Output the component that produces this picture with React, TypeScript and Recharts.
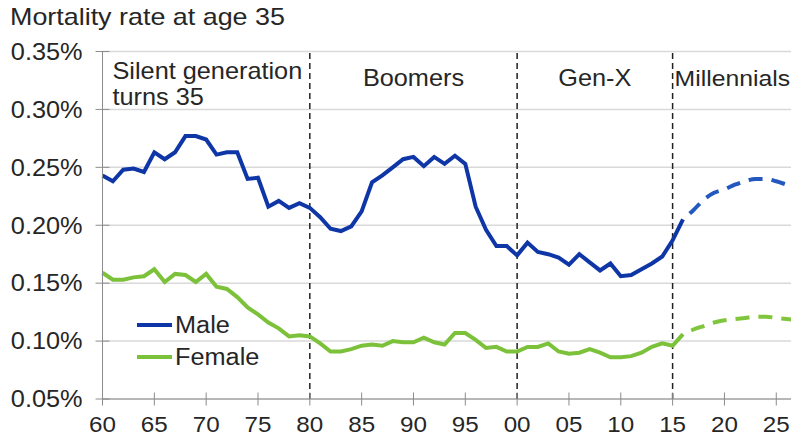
import {
  CartesianGrid,
  Line,
  LineChart,
  ReferenceArea,
  ReferenceLine,
  XAxis,
  YAxis,
} from 'recharts';

const FIRST_YEAR = 1960;
const PROJECTION_START = 2016;

// Mortality rate at age 35, % — history 1960..2016
const maleHistory = [
  0.243, 0.238, 0.248, 0.249, 0.246, 0.263, 0.257, 0.263, 0.277, 0.277,
  0.274, 0.261, 0.263, 0.263, 0.24, 0.241, 0.216, 0.221, 0.215, 0.219,
  0.215, 0.207, 0.197, 0.195, 0.199, 0.212, 0.237, 0.243, 0.25, 0.257,
  0.259, 0.251, 0.259, 0.253, 0.26, 0.253, 0.216, 0.196, 0.182, 0.182,
  0.174, 0.185, 0.177, 0.175, 0.172, 0.166, 0.175, 0.168, 0.161, 0.167,
  0.156, 0.157, 0.162, 0.167, 0.173, 0.187, 0.205,
];
const femaleHistory = [
  0.159, 0.153, 0.153, 0.155, 0.156, 0.162, 0.151, 0.158, 0.157, 0.151,
  0.158, 0.147, 0.145, 0.138, 0.129, 0.123, 0.116, 0.111, 0.104, 0.105,
  0.104, 0.098, 0.091, 0.091, 0.093, 0.096, 0.097, 0.096, 0.1, 0.099,
  0.099, 0.103, 0.099, 0.097, 0.107, 0.107, 0.101, 0.094, 0.095, 0.091,
  0.091, 0.095, 0.095, 0.098, 0.091, 0.089, 0.09, 0.093, 0.09, 0.086,
  0.086, 0.087, 0.09, 0.095, 0.098, 0.096, 0.106,
];

// projections 2016..2027
const maleProjection = [0.205, 0.213, 0.222, 0.228, 0.231, 0.235, 0.238, 0.24, 0.24, 0.238, 0.235, 0.232];
const femaleProjection = [0.106, 0.11, 0.113, 0.116, 0.118, 0.119, 0.12, 0.121, 0.121, 0.12, 0.119, 0.118];

const xTicks = [1960, 1965, 1970, 1975, 1980, 1985, 1990, 1995, 2000, 2005, 2010, 2015, 2020, 2025];
const yTicks = [0.05, 0.1, 0.15, 0.2, 0.25, 0.3, 0.35];
const eraBreaks = [1980, 2000, 2015];
const eras = [
  { from: 1960, to: 1980, lines: ['Silent generation', 'turns 35'], align: 'block' },
  { from: 1980, to: 2000, lines: ['Boomers'], align: 'middle' },
  { from: 2000, to: 2015, lines: ['Gen-X'], align: 'middle' },
  { from: 2015, to: 2027, lines: ['Millennials'], align: 'start' },
];

const LAST_YEAR = PROJECTION_START + maleProjection.length - 1;

const rows = [];
for (let year = FIRST_YEAR; year <= LAST_YEAR; year++) {
  const h = year - FIRST_YEAR;
  const p = year - PROJECTION_START;
  rows.push({
    year,
    male: maleHistory[h],
    female: femaleHistory[h],
    maleProj: p >= 0 ? maleProjection[p] : undefined,
    femaleProj: p >= 0 ? femaleProjection[p] : undefined,
  });
}

const FONT = '"Liberation Sans", Arial, sans-serif';
const TEXT = '#262626';
const STRETCH = 'scale(1.1,1)'; // the source text is a bit wider than Arial
const MALE = '#0f36a6';
const MALE_PROJ = '#2358bf';
const FEMALE = '#7cc13a';
const FEMALE_PROJ = '#80c63c';

const legendItems = [
  { label: 'Male', color: MALE },
  { label: 'Female', color: FEMALE },
];

function XTick({ x, y, payload }: any) {
  return (
    <g transform={`translate(${x},${y})`}>
      <text transform={STRETCH} textAnchor="middle" dy="0.71em" fill={TEXT} fontSize={22} fontFamily={FONT}>
        {String(payload.value % 100).padStart(2, '0')}
      </text>
    </g>
  );
}

function YTick({ x, y, payload }: any) {
  return (
    <g transform={`translate(${x},${y})`}>
      <text transform={STRETCH} textAnchor="end" dy="0.36em" fill={TEXT} fontSize={23} fontFamily={FONT}>
        {payload.value.toFixed(2) + '%'}
      </text>
    </g>
  );
}

function EraLabel({ viewBox, lines, align }: any) {
  const { x, y, width } = viewBox;
  if (align === 'block') {
    return (
      <g transform={`translate(${x + 10},${y + 27})`}>
        <text transform={STRETCH} fill={TEXT} fontSize={23} fontFamily={FONT}>
          {lines.map((l: string, i: number) => (
            <tspan key={l} x={0} dy={i ? 27 : 0}>
              {l}
            </tspan>
          ))}
        </text>
      </g>
    );
  }
  const left = align === 'start';
  return (
    <g transform={`translate(${left ? x + 2 : x + width / 2},${y + 34})`}>
      <text
        transform={STRETCH}
        textAnchor={left ? 'start' : 'middle'}
        fill={TEXT}
        fontSize={left ? 22.5 : 23}
        fontFamily={FONT}
      >
        {lines[0]}
      </text>
    </g>
  );
}

export default function App() {
  return (
    <div
      style={{
        position: 'absolute',
        left: 0,
        top: 0,
        width: 791,
        height: 438,
        overflow: 'hidden',
        background: '#fff',
        fontFamily: FONT,
        color: TEXT,
      }}
    >
      <div
        style={{
          position: 'absolute',
          left: 10,
          top: 3,
          fontSize: 24,
          whiteSpace: 'nowrap',
          transform: 'scaleX(1.12)',
          transformOrigin: 'left',
        }}
      >
        Mortality rate at age 35
      </div>
      <LineChart width={797} height={438} data={rows} margin={{ top: 51.5, right: 0, bottom: 9, left: 0 }}>
        <CartesianGrid vertical={false} stroke="#d9d9d9" strokeWidth={1.5} />
        <XAxis
          dataKey="year"
          type="number"
          domain={[FIRST_YEAR, LAST_YEAR]}
          ticks={xTicks}
          height={30}
          tickSize={13}
          tickMargin={4}
          tickLine={{ transform: 'translate(0,-6.5)' }}
          stroke="#8c8c8c"
          tick={<XTick />}
          interval={0}
        />
        <YAxis
          type="number"
          domain={[0.05, 0.35]}
          ticks={yTicks}
          width={102.5}
          tickSize={14}
          tickMargin={6}
          tickLine={{ transform: 'translate(7,0)' }}
          stroke="#8c8c8c"
          tick={<YTick />}
          interval={0}
        />
        {eras.map((e) => (
          <ReferenceArea
            key={e.lines[0]}
            x1={e.from}
            x2={e.to}
            fill="none"
            fillOpacity={0}
            strokeOpacity={0}
            ifOverflow="visible"
            label={(props: any) => <EraLabel {...props} lines={e.lines} align={e.align} />}
          />
        ))}
        {eraBreaks.map((x) => (
          <ReferenceLine key={x} x={x} stroke="#222" strokeWidth={1.5} strokeDasharray="6 4" />
        ))}
        <Line dataKey="male" name="Male" stroke={MALE} strokeWidth={4} dot={false} type="linear" isAnimationActive={false} />
        <Line dataKey="female" name="Female" stroke={FEMALE} strokeWidth={4} dot={false} type="linear" isAnimationActive={false} />
        <Line
          dataKey="maleProj"
          stroke={MALE_PROJ}
          strokeWidth={4}
          strokeDasharray="14 9"
          strokeDashoffset={14}
          dot={false}
          type="monotone"
          isAnimationActive={false}
        />
        <Line
          dataKey="femaleProj"
          stroke={FEMALE_PROJ}
          strokeWidth={4}
          strokeDasharray="14 9"
          strokeDashoffset={14}
          dot={false}
          type="monotone"
          isAnimationActive={false}
        />
      </LineChart>
      <div style={{ position: 'absolute', left: 137, top: 309, fontSize: 23 }}>
        {legendItems.map((it) => (
          <div key={it.label} style={{ display: 'flex', alignItems: 'center', height: 32 }}>
            <span style={{ width: 35, height: 4, background: it.color, marginRight: 3 }} />
            <span style={{ display: 'inline-block', transform: 'scaleX(1.1)', transformOrigin: 'left' }}>{it.label}</span>
          </div>
        ))}
      </div>
    </div>
  );
}
